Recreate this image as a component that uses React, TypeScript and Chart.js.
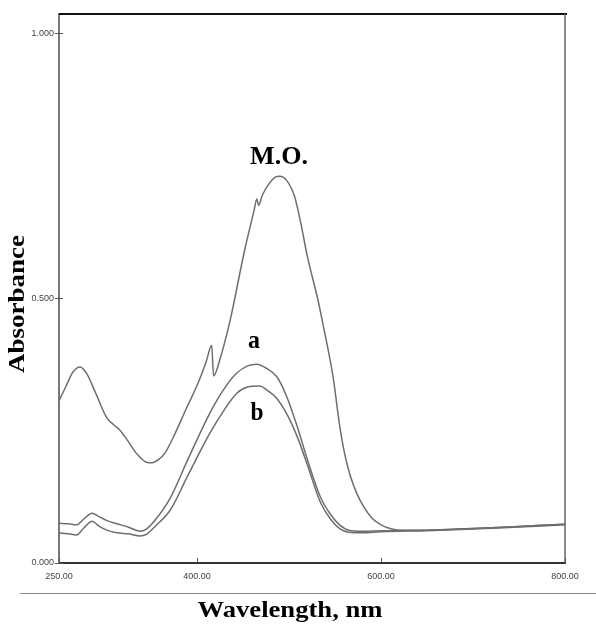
import React, { useEffect, useRef } from "react";
import { Chart, registerables } from "chart.js";

Chart.register(...registerables);

const xTicks = [250, 400, 600, 800];
const yTicks = [0, 0.5, 1.0];

const moWavelength = [250, 258, 265, 273, 280, 290, 302, 310, 316, 325, 335, 345, 351, 358, 365, 375, 389, 400, 410, 416, 418, 425, 436, 452, 462, 465, 467, 471, 478, 485, 490, 497, 506, 513, 520, 531, 537, 548, 555, 560, 566, 574, 582, 590, 600, 610, 620, 650, 700, 750, 800];
const moAbsorbance = [0.306, 0.335, 0.360, 0.370, 0.358, 0.320, 0.274, 0.260, 0.251, 0.230, 0.205, 0.190, 0.189, 0.195, 0.207, 0.240, 0.294, 0.335, 0.380, 0.411, 0.353, 0.385, 0.458, 0.592, 0.665, 0.687, 0.675, 0.694, 0.715, 0.728, 0.730, 0.723, 0.692, 0.640, 0.578, 0.500, 0.450, 0.350, 0.260, 0.210, 0.168, 0.130, 0.104, 0.085, 0.072, 0.065, 0.062, 0.062, 0.065, 0.069, 0.073];

const aWavelength = [250, 260, 269, 277, 286, 293, 302, 313, 325, 338, 345, 355, 371, 390, 414, 430, 443, 455, 465, 475, 487, 498, 509, 520, 534, 545, 555, 565, 580, 600, 650, 700, 750, 800];
const aAbsorbance = [0.075, 0.074, 0.072, 0.083, 0.094, 0.088, 0.080, 0.074, 0.068, 0.060, 0.064, 0.082, 0.123, 0.195, 0.283, 0.330, 0.358, 0.372, 0.375, 0.368, 0.351, 0.312, 0.257, 0.195, 0.125, 0.092, 0.072, 0.062, 0.060, 0.061, 0.062, 0.065, 0.069, 0.073];

const bWavelength = [250, 260, 269, 277, 286, 293, 302, 313, 325, 338, 345, 355, 371, 390, 414, 430, 443, 455, 468, 477, 487, 498, 509, 520, 534, 545, 555, 565, 580, 600, 650, 700, 750, 800];
const bAbsorbance = [0.057, 0.055, 0.053, 0.066, 0.079, 0.070, 0.062, 0.057, 0.055, 0.051, 0.054, 0.070, 0.100, 0.165, 0.245, 0.290, 0.320, 0.332, 0.334, 0.325, 0.310, 0.280, 0.238, 0.185, 0.115, 0.083, 0.065, 0.058, 0.057, 0.059, 0.061, 0.064, 0.068, 0.072];

const seriesLabels = ["M.O.", "a", "b"];

const toPoints = (xs: number[], ys: number[]) => xs.map((x, i) => ({ x, y: ys[i] }));

function drawFit(ctx: CanvasRenderingContext2D, text: string, cx: number, baseline: number, font: string, targetW: number) {
  ctx.save();
  ctx.font = font;
  const w = ctx.measureText(text).width;
  ctx.translate(cx, baseline);
  ctx.scale(targetW / w, 1);
  ctx.textAlign = "center";
  ctx.textBaseline = "alphabetic";
  ctx.fillStyle = "#000";
  ctx.fillText(text, 0, 0);
  ctx.restore();
}

const decorPlugin = {
  id: "decor",
  afterDraw(chart: any) {
    const ctx: CanvasRenderingContext2D = chart.ctx;
    const { left, right, top, bottom } = chart.chartArea;
    const xs = chart.scales.x;
    const ys = chart.scales.y;
    ctx.save();
    ctx.strokeStyle = "#111";
    ctx.lineWidth = 2;
    ctx.beginPath();
    ctx.moveTo(left, top);
    ctx.lineTo(right + 2, top);
    ctx.stroke();
    ctx.strokeStyle = "#666";
    ctx.lineWidth = 1.5;
    ctx.beginPath();
    ctx.moveTo(right, top);
    ctx.lineTo(right, bottom);
    ctx.stroke();
    ctx.strokeStyle = "#555";
    ctx.lineWidth = 1;
    xTicks.forEach((v) => {
      const px = Math.round(xs.getPixelForValue(v)) + 0.5;
      ctx.beginPath();
      ctx.moveTo(px, bottom);
      ctx.lineTo(px, bottom - 5);
      ctx.stroke();
    });
    yTicks.forEach((v) => {
      const py = Math.round(ys.getPixelForValue(v)) + 0.5;
      ctx.beginPath();
      ctx.moveTo(left - 4, py);
      ctx.lineTo(left + 4, py);
      ctx.stroke();
    });
    ctx.strokeStyle = "#888";
    ctx.lineWidth = 1;
    ctx.beginPath();
    ctx.moveTo(20, 593.5);
    ctx.lineTo(596, 593.5);
    ctx.stroke();
    ctx.restore();

    drawFit(ctx, "Wavelength, nm", 290, 617, "bold 23px 'Liberation Serif'", 185);
    ctx.save();
    ctx.translate(24, 304);
    ctx.rotate(-Math.PI / 2);
    drawFit(ctx, "Absorbance", 0, 0, "bold 24px 'Liberation Serif'", 138);
    ctx.restore();

    drawFit(ctx, seriesLabels[0], 279, 164, "bold 26px 'Liberation Serif'", 58);
    drawFit(ctx, seriesLabels[1], 254, 348, "bold 26px 'Liberation Serif'", 12);
    drawFit(ctx, seriesLabels[2], 257, 420, "bold 26px 'Liberation Serif'", 13);
  },
};

export default function App() {
  const ref = useRef<HTMLCanvasElement | null>(null);
  useEffect(() => {
    if (!ref.current) return;
    const lineStyle = {
      borderColor: "#6e6e6e",
      borderWidth: 1.5,
      pointRadius: 0,
      fill: false,
      cubicInterpolationMode: "monotone" as const,
    };
    const chart = new Chart(ref.current, {
      type: "line",
      data: {
        datasets: [
          { label: seriesLabels[0], data: toPoints(moWavelength, moAbsorbance), ...lineStyle },
          { label: seriesLabels[1], data: toPoints(aWavelength, aAbsorbance), ...lineStyle },
          { label: seriesLabels[2], data: toPoints(bWavelength, bAbsorbance), ...lineStyle },
        ],
      },
      options: {
        animation: false,
        responsive: true,
        maintainAspectRatio: false,
        layout: { padding: { top: 14, right: 31, left: 0, bottom: 0 } },
        plugins: { legend: { display: false }, tooltip: { enabled: false } },
        scales: {
          x: {
            type: "linear",
            min: 250,
            max: 800,
            afterBuildTicks: (s: any) => {
              s.ticks = xTicks.map((v) => ({ value: v }));
            },
            afterFit: (s: any) => {
              s.height = 66;
            },
            border: { display: true, color: "#333", width: 2 },
            grid: { display: true, drawOnChartArea: false, drawTicks: false },
            ticks: {
              padding: 8,
              color: "#444",
              font: { family: "'Liberation Sans'", size: 9 },
              maxRotation: 0,
              autoSkip: false,
              callback: (v: any) => Number(v).toFixed(2),
            },
          },
          y: {
            type: "linear",
            min: 0,
            max: 1.036,
            afterBuildTicks: (s: any) => {
              s.ticks = yTicks.map((v) => ({ value: v }));
            },
            afterFit: (s: any) => {
              s.width = 59;
            },
            border: { display: true, color: "#777", width: 2 },
            grid: { display: true, drawOnChartArea: false, drawTicks: false },
            ticks: {
              padding: 5,
              color: "#444",
              font: { family: "'Liberation Sans'", size: 9 },
              callback: (v: any) => Number(v).toFixed(3),
            },
          },
        },
      },
      plugins: [decorPlugin],
    });
    return () => chart.destroy();
  }, []);
  return (
    <div style={{ position: "fixed", left: 0, top: 0, width: 596, height: 629, background: "#fff" }}>
      <canvas ref={ref} />
    </div>
  );
}
